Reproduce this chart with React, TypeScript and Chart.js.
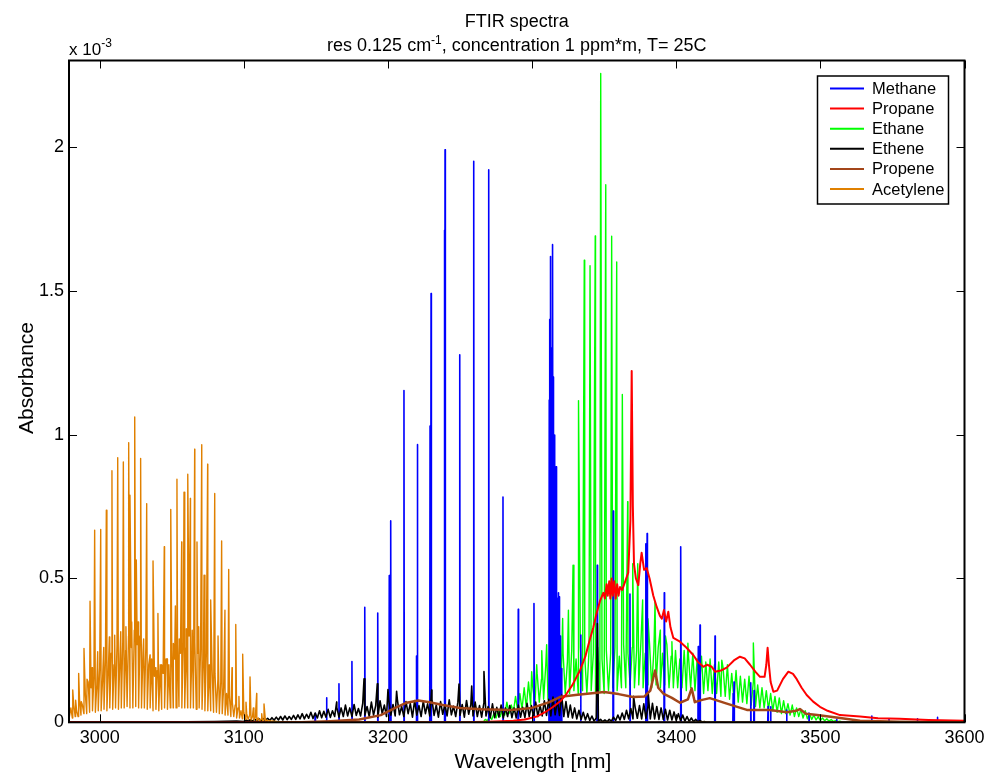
import { useEffect, useRef } from 'react';
import { Chart, registerables } from 'chart.js';

Chart.register(...registerables);

// ---------------- axes ----------------
const X_MIN = 2978.7;
const X_MAX = 3600;
const Y_MIN = 0;
const Y_MAX = 2.3;
const X_TICKS = [3000, 3100, 3200, 3300, 3400, 3500, 3600];
const Y_TICKS = [0, 0.5, 1, 1.5, 2];
const Y_TICK_LABELS = ['0', '0.5', '1', '1.5', '2'];

const TITLE = 'FTIR spectra';
const SUBTITLE_PARTS: [string, boolean][] = [
  ['res 0.125 cm', false],
  ['-1', true],
  [', concentration 1 ppm*m, T= 25C', false],
];
const EXPONENT_PARTS: [string, boolean][] = [
  ['x 10', false],
  ['-3', true],
];
const X_LABEL = 'Wavelength [nm]';
const Y_LABEL = 'Absorbance';

const SERIES_NAMES = ['Methane', 'Propane', 'Ethane', 'Ethene', 'Propene', 'Acetylene'];
const SERIES_COLORS = ['#0000ff', '#ff0000', '#00ff00', '#000000', '#a3461a', '#e08000'];

// ---------------- data (absorbance in units of 1e-3) ----------------
// Methane: individual absorption lines [wavelength nm, peak]
const METHANE_LINES: [number, number][] = [
  [3149.5, 0.03], [3157.4, 0.085], [3166.0, 0.134], [3175.0, 0.211], [3183.9, 0.40],
  [3192.9, 0.38], [3200.9, 0.51], [3201.9, 0.70], [3211.1, 1.153], [3219.7, 0.23],
  [3220.4, 0.965], [3229.2, 1.03], [3229.9, 1.49], [3239.1, 1.71], [3239.6, 1.99],
  [3249.8, 1.277], [3259.5, 1.95], [3269.9, 1.92], [3279.8, 0.783], [3290.4, 0.393],
  [3301.3, 0.413], [3311.9, 1.12], [3312.4, 1.4], [3312.9, 1.619], [3313.6, 1.3],
  [3314.3, 1.66], [3314.8, 1.2], [3315.2, 0.998], [3315.8, 0.95], [3316.1, 0.7],
  [3316.6, 0.888], [3317.0, 0.6], [3317.5, 0.43], [3318.2, 0.45], [3318.9, 0.436],
  [3319.6, 0.3], [3320.5, 0.187], [3333.7, 0.303], [3345.2, 0.546], [3356.3, 0.734],
  [3367.9, 0.446], [3378.8, 0.62], [3379.8, 0.656], [3391.7, 0.45], [3402.9, 0.30],
  [3403.3, 0.61], [3415.3, 0.263], [3416.5, 0.338], [3426.9, 0.30], [3439.5, 0.10],
  [3440.1, 0.14], [3451.7, 0.137], [3454.0, 0.11], [3463.7, 0.055], [3465.5, 0.054],
  [3476.6, 0.043], [3492.1, 0.032], [3511.3, 0.01], [3535.6, 0.022], [3547.6, 0.012],
  [3567.3, 0.012], [3581.2, 0.017],
];
const METHANE_BASE: [number, number][] = [[2978.7, 0], [3600, 0]];

// Propane: broad band
const PROPANE: [number, number][] = [
  [2978.7, 0], [3250, 0], [3270, 0.002], [3287, 0.005], [3295, 0.01], [3303.2, 0.02],
  [3309, 0.035], [3314.7, 0.054], [3320, 0.075], [3324, 0.1], [3328, 0.13], [3333.2, 0.18],
  [3337, 0.23], [3340.2, 0.29], [3342.5, 0.33], [3344.8, 0.38], [3347, 0.42], [3349.4, 0.45],
  [3350.5, 0.43], [3351.7, 0.48], [3352.5, 0.44], [3353.5, 0.49], [3354.3, 0.43], [3355.2, 0.5],
  [3356, 0.44], [3357, 0.49], [3358, 0.43], [3359, 0.48], [3360, 0.44], [3361, 0.47],
  [3362.5, 0.46], [3364.6, 0.49], [3366.7, 0.52], [3368.2, 0.7], [3369.1, 1.221], [3369.9, 0.75],
  [3370.7, 0.55], [3372, 0.5], [3373.7, 0.477], [3375, 0.55], [3376, 0.589], [3377.7, 0.53],
  [3379.5, 0.536], [3381.5, 0.5], [3384.1, 0.44], [3386.5, 0.4], [3388.7, 0.37], [3390, 0.36],
  [3391.5, 0.39], [3393, 0.35], [3394.5, 0.384], [3396, 0.33], [3398, 0.293], [3402.6, 0.28],
  [3407, 0.26], [3411.8, 0.234], [3415, 0.21], [3418.8, 0.193], [3421.5, 0.2], [3424.6, 0.193],
  [3426.9, 0.176], [3431, 0.18], [3435, 0.19], [3440, 0.215], [3444.2, 0.228], [3447.5, 0.222],
  [3451.2, 0.2], [3455, 0.175], [3458.1, 0.158], [3461.3, 0.158], [3462.5, 0.2], [3463.4, 0.259],
  [3464.3, 0.2], [3465.5, 0.14], [3467.4, 0.106], [3470, 0.11], [3474, 0.15], [3477.8, 0.176],
  [3481, 0.168], [3483.6, 0.15], [3487, 0.12], [3490.5, 0.095], [3495, 0.072], [3499.7, 0.054],
  [3505, 0.04], [3513.6, 0.025], [3527.5, 0.02], [3540, 0.014], [3555, 0.012], [3575, 0.008],
  [3600, 0.005],
];

// Ethane: dense background band sampled every 1.5 nm from 3266 nm, plus strong lines
const ETHANE_BAND_START = 3266;
const ETHANE_BAND_STEP = 1.5;
const ETHANE_BAND = [
  0.0, 0.01, 0.005, 0.02, 0.01, 0.03, 0.015, 0.04, 0.02, 0.05,
  0.025, 0.07, 0.03, 0.06, 0.035, 0.09, 0.04, 0.1, 0.045, 0.12,
  0.05, 0.14, 0.06, 0.12, 0.065, 0.17, 0.07, 0.15, 0.08, 0.2,
  0.08, 0.18, 0.09, 0.22, 0.09, 0.2, 0.1, 0.24, 0.1, 0.21,
  0.1, 0.25, 0.11, 0.22, 0.1, 0.26, 0.11, 0.23, 0.1, 0.25,
  0.11, 0.24, 0.1, 0.26, 0.11, 0.22, 0.1, 0.25, 0.11, 0.24,
  0.12, 0.26, 0.11, 0.23, 0.12, 0.27, 0.12, 0.24, 0.13, 0.26,
  0.12, 0.25, 0.13, 0.28, 0.12, 0.24, 0.13, 0.27, 0.12, 0.25,
  0.13, 0.26, 0.12, 0.24, 0.13, 0.27, 0.12, 0.23, 0.12, 0.25,
  0.12, 0.22, 0.12, 0.25, 0.11, 0.23, 0.12, 0.24, 0.11, 0.22,
  0.11, 0.23, 0.1, 0.21, 0.11, 0.22, 0.1, 0.2, 0.1, 0.21,
  0.09, 0.19, 0.09, 0.2, 0.08, 0.17, 0.08, 0.18, 0.07, 0.16,
  0.07, 0.15, 0.065, 0.16, 0.06, 0.14, 0.055, 0.13, 0.05, 0.12,
  0.05, 0.11, 0.045, 0.1, 0.04, 0.09, 0.035, 0.085, 0.03, 0.075,
  0.03, 0.065, 0.025, 0.06, 0.02, 0.05, 0.02, 0.045, 0.015, 0.04,
  0.012, 0.03, 0.01, 0.025, 0.008, 0.02, 0.006, 0.015, 0.005, 0.012,
  0.004, 0.01, 0.003, 0.006, 0.002, 0.004, 0.001,
];
const ETHANE_LINES: [number, number][] = [
  [3299.7, 0.176], [3303.2, 0.2], [3306.7, 0.249], [3310.1, 0.27], [3313.6, 0.344],
  [3317.5, 0.32], [3321.2, 0.361], [3325.2, 0.39], [3328.4, 0.546], [3332.2, 1.118],
  [3336.2, 1.606], [3340.2, 1.587], [3343.8, 1.69], [3347.6, 2.255], [3351.1, 1.868],
  [3355.2, 1.689], [3358.7, 1.6], [3362.6, 1.139], [3366.3, 0.767], [3369.8, 0.551],
  [3373.3, 0.551], [3376.7, 0.425], [3380.4, 0.36], [3385.3, 0.418], [3388.9, 0.32],
  [3392.5, 0.3], [3397.0, 0.28], [3408.1, 0.275], [3431.6, 0.216], [3453.5, 0.276],
];
const ETHANE_EDGES: [number, number][] = [[2978.7, 0], [3264, 0], [3516, 0], [3600, 0]];

// Ethene: noisy band, sampled every 1.5 nm from 3100 nm, plus a few lines
const ETHENE_LEAD: [number, number][] = [
  [2978.7, 0], [3040, 0.001], [3060, 0.002], [3080, 0.003], [3095, 0.004],
];
const ETHENE_BAND_START = 3100;
const ETHENE_BAND_STEP = 1.5;
const ETHENE_BAND = [
  0.003, 0.008, 0.004, 0.009, 0.004, 0.011, 0.005, 0.012, 0.005, 0.013,
  0.006, 0.014, 0.006, 0.016, 0.007, 0.018, 0.008, 0.02, 0.008, 0.022,
  0.009, 0.02, 0.01, 0.024, 0.01, 0.026, 0.012, 0.03, 0.012, 0.028,
  0.014, 0.035, 0.013, 0.032, 0.015, 0.04, 0.016, 0.038, 0.018, 0.045,
  0.017, 0.04, 0.02, 0.052, 0.018, 0.05, 0.02, 0.06, 0.022, 0.05,
  0.02, 0.062, 0.024, 0.048, 0.022, 0.066, 0.025, 0.055, 0.02, 0.07,
  0.025, 0.058, 0.018, 0.075, 0.03, 0.06, 0.02, 0.078, 0.025, 0.062,
  0.022, 0.08, 0.026, 0.055, 0.02, 0.072, 0.03, 0.065, 0.018, 0.076,
  0.025, 0.058, 0.02, 0.074, 0.03, 0.064, 0.022, 0.08, 0.024, 0.06,
  0.018, 0.072, 0.028, 0.062, 0.022, 0.078, 0.026, 0.056, 0.02, 0.07,
  0.024, 0.062, 0.018, 0.076, 0.028, 0.06, 0.022, 0.07, 0.02, 0.058,
  0.018, 0.066, 0.022, 0.055, 0.016, 0.064, 0.016, 0.052, 0.018, 0.06,
  0.015, 0.05, 0.02, 0.058, 0.016, 0.05, 0.015, 0.06, 0.018, 0.052,
  0.016, 0.066, 0.02, 0.058, 0.018, 0.07, 0.02, 0.06, 0.022, 0.075,
  0.024, 0.08, 0.022, 0.088, 0.026, 0.078, 0.024, 0.095, 0.02, 0.072,
  0.018, 0.06, 0.015, 0.05, 0.012, 0.042, 0.01, 0.035, 0.008, 0.03,
  0.006, 0.022, 0.004, 0.015, 0.003, 0.01, 0.002, 0.008, 0.002, 0.01,
  0.004, 0.018, 0.006, 0.025, 0.008, 0.032, 0.01, 0.042, 0.012, 0.048,
  0.012, 0.052, 0.014, 0.058, 0.012, 0.064, 0.014, 0.058, 0.012, 0.066,
  0.012, 0.055, 0.01, 0.05, 0.01, 0.045, 0.008, 0.042, 0.008, 0.036,
  0.006, 0.03, 0.005, 0.025, 0.004, 0.02, 0.003, 0.015, 0.002, 0.01,
  0.002, 0.006, 0.001, 0.003, 0.0,
];
const ETHENE_LINES: [number, number][] = [
  [3164.4, 0.07], [3183.4, 0.151], [3192.6, 0.134], [3200.0, 0.114], [3206.0, 0.108],
  [3230.3, 0.112], [3249.3, 0.133], [3258.1, 0.126], [3266.6, 0.176], [3345.3, 0.343],
  [3370.4, 0.09], [3380.6, 0.1],
];
const ETHENE_TAIL: [number, number][] = [[3600, 0]];

// Propene: smooth broad band with small features
const PROPENE: [number, number][] = [
  [2978.7, 0], [3140, 0], [3160, 0.004], [3180, 0.01], [3195, 0.025], [3205, 0.05],
  [3213, 0.068], [3221, 0.076], [3229, 0.07], [3238, 0.06], [3250, 0.05], [3265, 0.045],
  [3285, 0.043], [3300, 0.05], [3312, 0.07], [3320, 0.089], [3330, 0.095], [3340, 0.1],
  [3350, 0.105], [3360, 0.098], [3370, 0.088], [3378, 0.09], [3382, 0.11], [3385.3, 0.18],
  [3387.5, 0.12], [3391, 0.1], [3397, 0.085], [3402.6, 0.068], [3408.1, 0.08], [3410.7, 0.118],
  [3412.9, 0.07], [3418, 0.078], [3423.3, 0.084], [3435.1, 0.065], [3449, 0.043], [3465, 0.043],
  [3476.8, 0.035], [3483, 0.04], [3485.8, 0.046], [3490, 0.03], [3497.8, 0.025], [3513.7, 0.015],
  [3527.5, 0.005], [3555, 0.002], [3600, 0],
];

// Acetylene: dense background sampled every 1 nm from 2979 nm, plus rovibrational lines
const ACETYLENE_BAND_START = 2979;
const ACETYLENE_BAND_STEP = 1;
const ACETYLENE_BAND = [
  0.02, 0.05, 0.015, 0.06, 0.02, 0.04, 0.02, 0.08, 0.025, 0.06,
  0.03, 0.1, 0.03, 0.14, 0.035, 0.12, 0.04, 0.16, 0.035, 0.13,
  0.04, 0.19, 0.04, 0.15, 0.045, 0.22, 0.04, 0.18, 0.05, 0.24,
  0.045, 0.2, 0.05, 0.27, 0.045, 0.22, 0.05, 0.28, 0.05, 0.25,
  0.055, 0.3, 0.05, 0.26, 0.05, 0.32, 0.055, 0.27, 0.05, 0.3,
  0.05, 0.24, 0.05, 0.26, 0.045, 0.2, 0.05, 0.22, 0.04, 0.16,
  0.045, 0.18, 0.04, 0.2, 0.045, 0.17, 0.05, 0.22, 0.045, 0.2,
  0.05, 0.25, 0.05, 0.22, 0.05, 0.27, 0.055, 0.24, 0.05, 0.28,
  0.05, 0.26, 0.05, 0.3, 0.05, 0.25, 0.05, 0.28, 0.045, 0.24,
  0.05, 0.26, 0.045, 0.22, 0.04, 0.24, 0.04, 0.2, 0.04, 0.18,
  0.035, 0.17, 0.035, 0.15, 0.03, 0.14, 0.03, 0.12, 0.025, 0.1,
  0.025, 0.09, 0.02, 0.07, 0.02, 0.06, 0.015, 0.05, 0.015, 0.04,
  0.012, 0.035, 0.01, 0.03, 0.01, 0.025, 0.008, 0.02, 0.008, 0.018,
  0.006, 0.015, 0.005, 0.012, 0.004, 0.01, 0.004, 0.008, 0.003, 0.006,
  0.003, 0.005, 0.002, 0.004, 0.002, 0.002,
];
const ACETYLENE_LINES: [number, number][] = [
  [2981.3, 0.112], [2983.3, 0.077], [2985.4, 0.17], [2987.2, 0.072], [2989.1, 0.257],
  [2991.2, 0.15], [2993.3, 0.421], [2994.7, 0.19], [2996.5, 0.668], [2998.6, 0.245],
  [3000.7, 0.67], [3002.8, 0.26], [3004.6, 0.737], [3006.7, 0.297], [3008.5, 0.874],
  [3010.4, 0.303], [3012.5, 0.92], [3014.6, 0.315], [3016.4, 0.905], [3018.2, 0.332],
  [3020.1, 0.972], [3021.0, 0.789], [3022.2, 0.349], [3024.3, 1.061], [3025.4, 0.564],
  [3026.6, 0.349], [3028.4, 0.917], [3030.5, 0.29], [3032.6, 0.76], [3034.9, 0.234],
  [3037.0, 0.561], [3038.9, 0.19], [3040.4, 0.378], [3043.0, 0.2], [3044.8, 0.61],
  [3046.9, 0.22], [3049.3, 0.74], [3051.1, 0.274], [3052.5, 0.404], [3053.6, 0.845],
  [3055.2, 0.29], [3056.9, 0.627], [3058.5, 0.8], [3060.1, 0.325], [3061.1, 0.862],
  [3062.9, 0.778], [3064.2, 0.32], [3065.9, 0.949], [3067.5, 0.627], [3068.7, 0.332],
  [3070.8, 0.965], [3072.4, 0.511], [3074.9, 0.897], [3077.0, 0.425], [3079.8, 0.795],
  [3082.1, 0.3], [3084.6, 0.63], [3086.9, 0.39], [3089.5, 0.531], [3091.8, 0.19],
  [3094.4, 0.34], [3096.6, 0.09], [3099.2, 0.237], [3101.5, 0.07], [3104.3, 0.158],
  [3106.6, 0.05], [3108.9, 0.1], [3112.4, 0.03], [3114.0, 0.064],
];
const ACETYLENE_TAIL: [number, number][] = [[3126, 0], [3600, 0]];

// ---------------- styling constants ----------------
const FONT = '"Liberation Sans", Arial, Helvetica, sans-serif';
const LINE_HALF_WIDTH = 0.22; // nm, half base-width of a drawn stick line
const TICK_LEN = 8;

type P = { x: number; y: number };

const toPts = (arr: [number, number][]): P[] => arr.map(([x, y]) => ({ x, y }));
const gridPts = (start: number, step: number, ys: number[]): P[] =>
  ys.map((y, i) => ({ x: start + i * step, y }));
const sortPts = (pts: P[]): P[] => pts.slice().sort((a, b) => a.x - b.x);
const sticks = (lines: [number, number][]): P[] =>
  lines.flatMap(([x, y]) => [
    { x: x - LINE_HALF_WIDTH, y: 0 },
    { x, y },
    { x: x + LINE_HALF_WIDTH, y: 0 },
  ]);

function drawParts(
  ctx: CanvasRenderingContext2D,
  parts: [string, boolean][],
  x: number,
  baseline: number,
  size: number,
  supSize: number,
  supRise: number,
  align: 'center' | 'left'
) {
  ctx.textBaseline = 'alphabetic';
  ctx.textAlign = 'left';
  const widths = parts.map(([t, sup]) => {
    ctx.font = `${sup ? supSize : size}px ${FONT}`;
    return ctx.measureText(t).width;
  });
  const total = widths.reduce((s, w) => s + w, 0);
  let cx = align === 'center' ? x - total / 2 : x;
  parts.forEach(([t, sup], i) => {
    ctx.font = `${sup ? supSize : size}px ${FONT}`;
    ctx.fillText(t, cx, sup ? baseline - supRise : baseline);
    cx += widths[i];
  });
}

const decorPlugin = {
  id: 'decor',
  afterDraw(chart: any) {
    const { ctx, chartArea: a, scales } = chart;
    ctx.save();
    ctx.fillStyle = '#000';
    ctx.strokeStyle = '#000';

    // inward tick marks on all four sides
    ctx.lineWidth = 1;
    ctx.beginPath();
    X_TICKS.forEach((v) => {
      const px = Math.round(scales.x.getPixelForValue(v)) + 0.5;
      ctx.moveTo(px, a.bottom);
      ctx.lineTo(px, a.bottom - TICK_LEN);
      ctx.moveTo(px, a.top);
      ctx.lineTo(px, a.top + TICK_LEN);
    });
    Y_TICKS.forEach((v) => {
      const py = Math.round(scales.y.getPixelForValue(v)) + 0.5;
      ctx.moveTo(a.left, py);
      ctx.lineTo(a.left + TICK_LEN, py);
      ctx.moveTo(a.right, py);
      ctx.lineTo(a.right - TICK_LEN, py);
    });
    ctx.stroke();

    // frame
    ctx.lineWidth = 2;
    ctx.strokeRect(a.left, a.top, a.right - a.left, a.bottom - a.top);

    // titles
    const mid = (a.left + a.right) / 2;
    ctx.textAlign = 'center';
    ctx.textBaseline = 'alphabetic';
    ctx.font = `18px ${FONT}`;
    ctx.fillText(TITLE, mid, 27);
    drawParts(ctx, SUBTITLE_PARTS, mid, 51, 18, 12, 7, 'center');
    drawParts(ctx, EXPONENT_PARTS, a.left, 55, 17, 12, 8, 'left');

    // axis labels
    ctx.font = `21px ${FONT}`;
    ctx.textAlign = 'center';
    ctx.fillText(X_LABEL, 533, 768);
    ctx.save();
    ctx.translate(32.5, 378);
    ctx.rotate(-Math.PI / 2);
    ctx.fillText(Y_LABEL, 0, 0);
    ctx.restore();

    // legend
    const bx = 817.5, by = 76, bw = 131, bh = 128;
    ctx.fillStyle = '#fff';
    ctx.fillRect(bx, by, bw, bh);
    ctx.lineWidth = 1.5;
    ctx.strokeRect(bx, by, bw, bh);
    ctx.font = `16.5px ${FONT}`;
    ctx.textAlign = 'left';
    ctx.textBaseline = 'middle';
    chart.data.datasets.forEach((ds: any, i: number) => {
      const y = 88.5 + i * 20.1;
      ctx.strokeStyle = ds.borderColor;
      ctx.lineWidth = 2;
      ctx.beginPath();
      ctx.moveTo(830, y);
      ctx.lineTo(864, y);
      ctx.stroke();
      ctx.fillStyle = '#000';
      ctx.fillText(ds.label, 872, y + 1);
    });
    ctx.restore();
  },
};

export default function App() {
  const ref = useRef<HTMLCanvasElement | null>(null);

  useEffect(() => {
    if (!ref.current) return;

    const methane = sortPts([...toPts(METHANE_BASE), ...sticks(METHANE_LINES)]);
    const propane = toPts(PROPANE);
    const ethane = sortPts([
      ...toPts(ETHANE_EDGES),
      ...gridPts(ETHANE_BAND_START, ETHANE_BAND_STEP, ETHANE_BAND),
      ...toPts(ETHANE_LINES),
    ]);
    const ethene = sortPts([
      ...toPts(ETHENE_LEAD),
      ...gridPts(ETHENE_BAND_START, ETHENE_BAND_STEP, ETHENE_BAND),
      ...toPts(ETHENE_LINES),
      ...toPts(ETHENE_TAIL),
    ]);
    const propene = toPts(PROPENE);
    const acetylene = sortPts([
      ...gridPts(ACETYLENE_BAND_START, ACETYLENE_BAND_STEP, ACETYLENE_BAND),
      ...toPts(ACETYLENE_LINES),
      ...toPts(ACETYLENE_TAIL),
    ]);

    const seriesData = [methane, propane, ethane, ethene, propene, acetylene];
    const widths = [1.6, 2, 1.4, 1.6, 2.5, 1.4];
    const drawOrder = [4, 1, 5, 3, 2, 0]; // lower = drawn on top

    const chart = new Chart(ref.current, {
      type: 'line',
      data: {
        datasets: seriesData.map((d, i) => ({
          label: SERIES_NAMES[i],
          data: d,
          borderColor: SERIES_COLORS[i],
          backgroundColor: SERIES_COLORS[i],
          borderWidth: widths[i],
          pointRadius: 0,
          tension: 0,
          fill: false,
          order: drawOrder[i],
          borderJoinStyle: 'round' as const,
        })),
      },
      options: {
        animation: false,
        responsive: false,
        events: [],
        layout: { padding: { top: 60.5, right: 35.5, left: 0, bottom: 0 } },
        plugins: {
          legend: { display: false },
          title: { display: false },
          tooltip: { enabled: false },
        },
        scales: {
          x: {
            type: 'linear',
            min: X_MIN,
            max: X_MAX,
            afterBuildTicks: (s: any) => {
              s.ticks = X_TICKS.map((v) => ({ value: v }));
            },
            afterFit: (s: any) => {
              s.height = 52.7;
            },
            grid: { display: false, drawTicks: false },
            border: { display: false },
            ticks: {
              padding: 5,
              color: '#000',
              font: { family: FONT, size: 18 },
              maxRotation: 0,
              autoSkip: false,
              callback: (v: any) => String(v),
            },
          },
          y: {
            type: 'linear',
            min: Y_MIN,
            max: Y_MAX,
            afterBuildTicks: (s: any) => {
              s.ticks = Y_TICKS.map((v) => ({ value: v }));
            },
            afterFit: (s: any) => {
              s.width = 69;
            },
            grid: { display: false, drawTicks: false },
            border: { display: false },
            ticks: {
              padding: 5,
              color: '#000',
              font: { family: FONT, size: 18 },
              autoSkip: false,
              callback: (_v: any, i: number) => Y_TICK_LABELS[i] ?? '',
            },
          },
        },
      },
      plugins: [decorPlugin],
    });

    return () => chart.destroy();
  }, []);

  return (
    <div style={{ position: 'fixed', left: 0, top: 0, width: 1000, height: 775, background: '#fff' }}>
      <canvas ref={ref} width={1000} height={775} style={{ display: 'block' }} />
    </div>
  );
}
